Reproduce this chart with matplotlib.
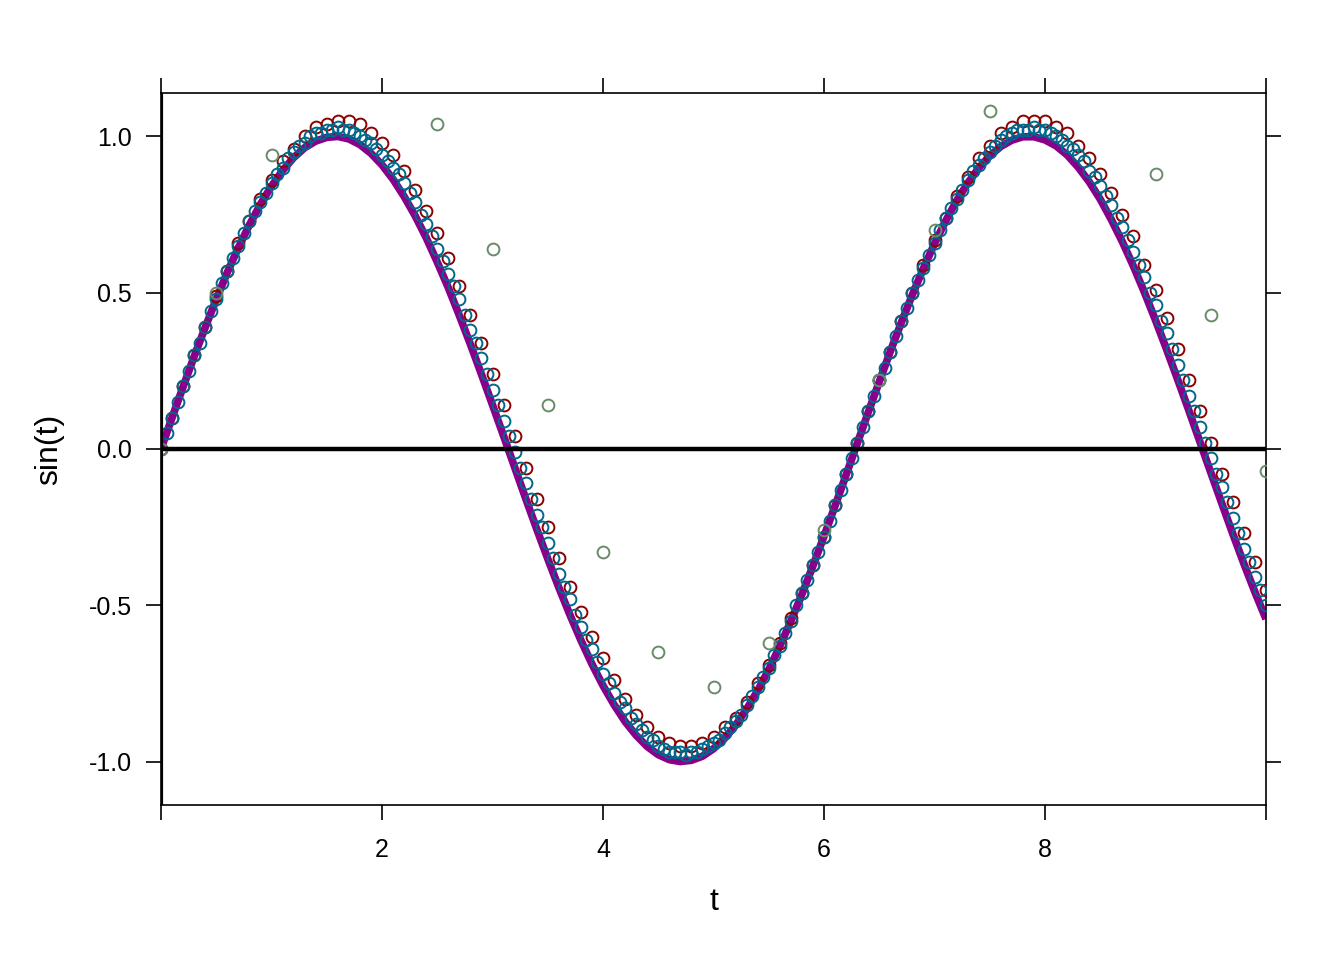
import matplotlib
matplotlib.use("Agg")
import matplotlib.pyplot as plt
import numpy as np

plt.rcParams["font.family"] = ["Liberation Sans", "DejaVu Sans"]
plt.rcParams["axes.unicode_minus"] = False

# time grids
t_line = np.linspace(0, 10, 101)
t_red = np.linspace(0, 10, 101)
t_blue = np.linspace(0, 10, 201)
t_green = np.linspace(0, 10, 21)

# exact curve sin(t)
sin_vals = [
    0.000, 0.100, 0.199, 0.296, 0.389, 0.479, 0.565, 0.644, 0.717, 0.783,
    0.841, 0.891, 0.932, 0.964, 0.985, 0.997, 1.000, 0.992, 0.974, 0.946,
    0.909, 0.863, 0.808, 0.746, 0.676, 0.598, 0.516, 0.427, 0.335, 0.239,
    0.141, 0.042, -0.058, -0.158, -0.256, -0.351, -0.443, -0.530, -0.612, -0.688,
    -0.757, -0.818, -0.872, -0.916, -0.952, -0.978, -0.994, -1.000, -0.996, -0.983,
    -0.959, -0.926, -0.884, -0.832, -0.773, -0.706, -0.631, -0.551, -0.465, -0.374,
    -0.279, -0.182, -0.083, 0.017, 0.117, 0.215, 0.312, 0.405, 0.494, 0.578,
    0.657, 0.729, 0.794, 0.850, 0.899, 0.938, 0.968, 0.988, 0.999, 0.999,
    0.989, 0.970, 0.941, 0.902, 0.855, 0.799, 0.734, 0.663, 0.585, 0.501,
    0.412, 0.319, 0.223, 0.125, 0.025, -0.075, -0.174, -0.272, -0.367, -0.458,
    -0.544,
]

# step 0.1 points (red)
red_vals = [
    0.00, 0.10, 0.20, 0.30, 0.39, 0.49, 0.57, 0.66, 0.73, 0.80,
    0.86, 0.92, 0.96, 1.00, 1.03, 1.04, 1.05, 1.05, 1.04, 1.01,
    0.98, 0.94, 0.89, 0.83, 0.76, 0.69, 0.61, 0.52, 0.43, 0.34,
    0.24, 0.14, 0.04, -0.06, -0.16, -0.25, -0.35, -0.44, -0.52, -0.60,
    -0.67, -0.74, -0.80, -0.85, -0.89, -0.92, -0.94, -0.95, -0.95, -0.94,
    -0.92, -0.89, -0.86, -0.81, -0.75, -0.69, -0.62, -0.54, -0.46, -0.37,
    -0.28, -0.18, -0.08, 0.02, 0.12, 0.22, 0.31, 0.41, 0.50, 0.59,
    0.67, 0.74, 0.81, 0.87, 0.93, 0.97, 1.01, 1.03, 1.05, 1.05,
    1.05, 1.03, 1.01, 0.97, 0.93, 0.88, 0.82, 0.75, 0.68, 0.59,
    0.51, 0.42, 0.32, 0.22, 0.12, 0.02, -0.08, -0.17, -0.27, -0.36,
    -0.45,
]

# step 0.05 points (blue)
blue_vals = [
    0.00, 0.05, 0.10, 0.15, 0.20, 0.25, 0.30, 0.34, 0.39, 0.44,
    0.48, 0.53, 0.57, 0.61, 0.65, 0.69, 0.73, 0.76, 0.79, 0.82,
    0.85, 0.88, 0.90, 0.93, 0.95, 0.97, 0.98, 1.00, 1.01, 1.01,
    1.02, 1.02, 1.03, 1.02, 1.02, 1.01, 1.00, 0.99, 0.98, 0.96,
    0.94, 0.92, 0.90, 0.88, 0.85, 0.82, 0.79, 0.75, 0.72, 0.68,
    0.64, 0.60, 0.56, 0.52, 0.48, 0.43, 0.38, 0.34, 0.29, 0.24,
    0.19, 0.14, 0.09, 0.04, -0.01, -0.06, -0.11, -0.16, -0.21, -0.25,
    -0.30, -0.35, -0.40, -0.44, -0.48, -0.53, -0.57, -0.61, -0.64, -0.68,
    -0.72, -0.75, -0.78, -0.81, -0.83, -0.86, -0.88, -0.90, -0.92, -0.93,
    -0.95, -0.96, -0.97, -0.97, -0.97, -0.98, -0.97, -0.97, -0.96, -0.95,
    -0.94, -0.93, -0.91, -0.89, -0.87, -0.85, -0.82, -0.79, -0.76, -0.73,
    -0.70, -0.66, -0.63, -0.59, -0.55, -0.50, -0.46, -0.42, -0.37, -0.33,
    -0.28, -0.23, -0.18, -0.13, -0.08, -0.03, 0.02, 0.07, 0.12, 0.17,
    0.22, 0.26, 0.31, 0.36, 0.41, 0.45, 0.50, 0.54, 0.58, 0.62,
    0.66, 0.70, 0.74, 0.77, 0.80, 0.83, 0.86, 0.89, 0.91, 0.93,
    0.95, 0.97, 0.99, 1.00, 1.01, 1.02, 1.02, 1.02, 1.03, 1.02,
    1.02, 1.01, 1.00, 0.99, 0.97, 0.96, 0.94, 0.92, 0.89, 0.87,
    0.84, 0.81, 0.78, 0.74, 0.71, 0.67, 0.63, 0.59, 0.55, 0.50,
    0.46, 0.41, 0.37, 0.32, 0.27, 0.22, 0.17, 0.12, 0.07, 0.02,
    -0.03, -0.08, -0.12, -0.17, -0.22, -0.27, -0.32, -0.36, -0.41, -0.45,
    -0.50,
]

# step 0.5 points (green)
green_vals = [0.00, 0.50, 0.94, 1.21, 1.24, 1.04, 0.64, 0.14, -0.33, -0.65, -0.76,
              -0.62, -0.26, 0.22, 0.70, 1.08, 1.26, 1.18, 0.88, 0.43, -0.07]

x_ticks = [0, 2, 4, 6, 8, 10]
x_labels = ["", "2", "4", "6", "8", ""]
y_ticks = [-1.0, -0.5, 0.0, 0.5, 1.0]
y_labels = ["-1.0", "-0.5", "0.0", "0.5", "1.0"]

fig = plt.figure(figsize=(13.44, 9.6), dpi=100)
ax = fig.add_axes([161 / 1344, 1 - 805 / 960, (1266 - 161) / 1344, (805 - 93) / 960])

ax.plot(t_line, sin_vals, color="#8B008B", lw=5.5, solid_capstyle="butt", zorder=2)
mk = dict(linestyle="none", marker="o", mfc="none", ms=8.5, mew=1.4, zorder=3)
ax.plot(t_red, red_vals, mec="#8B0000", **mk)
ax.plot(t_blue, blue_vals, mec="#00688B", **mk)
ax.plot(t_green, green_vals, mec="#698B69", **mk)

ax.axhline(0, color="black", lw=3.2, zorder=4)
ax.axvline(0, color="black", lw=3, zorder=4)

ax.set_xlim(0, 10)
ax.set_ylim(-1.139, 1.139)
ax.set_xticks(x_ticks)
ax.set_xticklabels(x_labels)
ax.set_yticks(y_ticks)
ax.set_yticklabels(y_labels)
ax.tick_params(direction="out", length=10.8, width=1.2, labelsize=18,
               top=True, right=True, colors="black")
ax.tick_params(axis="x", pad=13)
ax.tick_params(axis="y", pad=10)
for sp in ax.spines.values():
    sp.set_linewidth(1.2)

ax.set_xlabel("t", fontsize=23, labelpad=18)
ax.set_ylabel("sin(t)", fontsize=23, labelpad=18)

fig.savefig("out.png", dpi=100)
